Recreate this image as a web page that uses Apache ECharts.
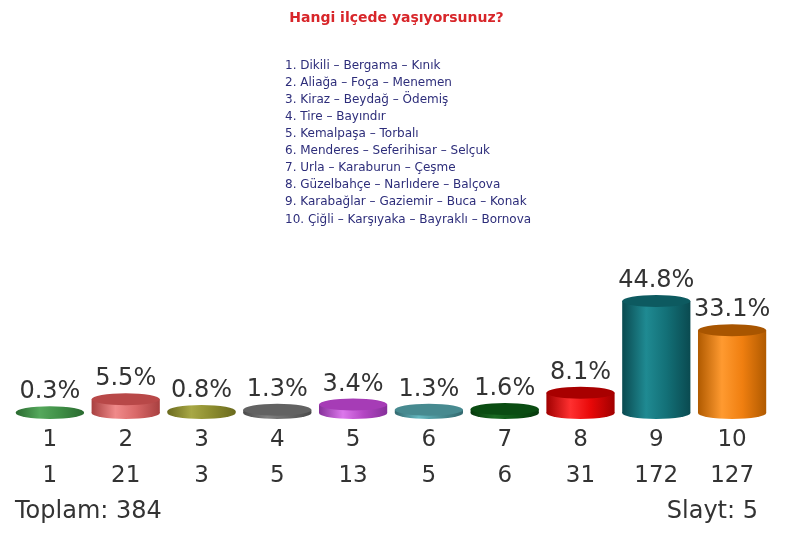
<!DOCTYPE html>
<html>
<head>
<meta charset="utf-8">
<script src="https://cdn.jsdelivr.net/npm/echarts@6/dist/echarts.min.js"></script>
<style>
html,body{margin:0;padding:0;background:#fff;}
#chart{width:793px;height:534px;}
</style>
</head>
<body>
<div id="chart"></div>
<script>
const titleText = 'Hangi ilçede yaşıyorsunuz?';
const regionNames = [
  '1. Dikili – Bergama – Kınık',
  '2. Aliağa – Foça – Menemen',
  '3. Kiraz – Beydağ – Ödemiş',
  '4. Tire – Bayındır',
  '5. Kemalpaşa – Torbalı',
  '6. Menderes – Seferihisar – Selçuk',
  '7. Urla – Karaburun – Çeşme',
  '8. Güzelbahçe – Narlıdere – Balçova',
  '9. Karabağlar – Gaziemir – Buca – Konak',
  '10. Çiğli – Karşıyaka – Bayraklı – Bornova'
];
const categories = ['1','2','3','4','5','6','7','8','9','10'];
const percents = [0.3, 5.5, 0.8, 1.3, 3.4, 1.3, 1.6, 8.1, 44.8, 33.1];
const counts = [1, 21, 3, 5, 13, 5, 6, 31, 172, 127];
const totalText = 'Toplam: 384';
const slideText = 'Slayt: 5';

const palette = [
  {base:'#3f8f46', light:'#55a85c', dark:'#2a6a30', top:'#3a8540'},
  {base:'#d96868', light:'#f08a8a', dark:'#a84040', top:'#b84848'},
  {base:'#8c8c2e', light:'#a8a845', dark:'#6a6a1e', top:'#858528'},
  {base:'#686868', light:'#808080', dark:'#4a4a4a', top:'#626262'},
  {base:'#b446c4', light:'#dc78ec', dark:'#86309a', top:'#a63cb6'},
  {base:'#4a9096', light:'#64b8c0', dark:'#33686e', top:'#478a90'},
  {base:'#0c5414', light:'#1a6a22', dark:'#06380c', top:'#0a4c12'},
  {base:'#e80808', light:'#ff3030', dark:'#a00000', top:'#a80000'},
  {base:'#137077', light:'#1f8a92', dark:'#0a4a50', top:'#0d5a60'},
  {base:'#f07f10', light:'#ff9a30', dark:'#b05a00', top:'#a85500'}
];

const chart = echarts.init(document.getElementById('chart'));

function renderItem(params, api) {
  const i = api.value(0);
  const v = api.value(1);
  const base = api.coord([i, 0]);
  const top = api.coord([i, v]);
  const w = api.size([1, 0])[0] * 0.9;
  const rx = w / 2, ry = 6;
  const cx = base[0];
  const c = palette[i];
  const grad = () => new echarts.graphic.LinearGradient(0, 0, 1, 0, [
    {offset: 0, color: c.dark},
    {offset: 0.35, color: c.light},
    {offset: 0.65, color: c.base},
    {offset: 1, color: c.dark}
  ]);
  const h = Math.max(0, base[1] - top[1]);
  return {
    type: 'group',
    children: [
      {type: 'circle', shape: {cx: 0, cy: 0, r: rx}, x: cx, y: base[1], scaleY: ry / rx,
       style: {fill: grad()}},
      {type: 'rect', shape: {x: cx - rx, y: top[1], width: w, height: h},
       style: {fill: grad()}},
      {type: 'circle', shape: {cx: 0, cy: 0, r: rx}, x: cx, y: top[1], scaleY: ry / rx,
       style: {fill: h > 2 ? c.top : grad()}},
      {type: 'text', x: cx, y: top[1] - ry - 2,
       style: {text: percents[i].toFixed(1) + '%', align: 'center', verticalAlign: 'bottom',
               fontSize: 24, fontFamily: 'DejaVu Sans', fill: '#333'}}
    ]
  };
}

chart.setOption({
  backgroundColor: '#fff',
  animation: false,
  title: {
    text: titleText, left: 'center', top: 6,
    textStyle: {color: '#d8262a', fontSize: 14, fontWeight: 'bold', fontFamily: 'DejaVu Sans'}
  },
  grid: {left: 12, right: 23, top: 288, bottom: 121},
  xAxis: {
    type: 'category', data: categories,
    axisLine: {show: false}, axisTick: {show: false}, splitLine: {show: false},
    axisLabel: {
      margin: 9, interval: 0,
      formatter: (val, idx) => '{a|' + val + '}\n{a|' + counts[idx] + '}',
      rich: {a: {fontSize: 23, lineHeight: 36, fontFamily: 'DejaVu Sans', color: '#333', align: 'center'}}
    }
  },
  yAxis: {type: 'value', min: 0, max: 50, show: false},
  graphic: [
    {type: 'text', left: 285, top: 57,
     style: {text: regionNames.join('\n'), fontSize: 12, lineHeight: 17.1, fontFamily: 'DejaVu Sans', fill: '#2d2d7a'}},
    {type: 'text', left: 15, top: 500,
     style: {text: totalText, fontSize: 24, fontFamily: 'DejaVu Sans', fill: '#333'}},
    {type: 'text', right: 35, top: 500,
     style: {text: slideText, fontSize: 24, fontFamily: 'DejaVu Sans', fill: '#333'}}
  ],
  series: [{
    type: 'custom',
    renderItem: renderItem,
    data: categories.map((c, i) => [i, percents[i]])
  }]
});
</script>
</body>
</html>
